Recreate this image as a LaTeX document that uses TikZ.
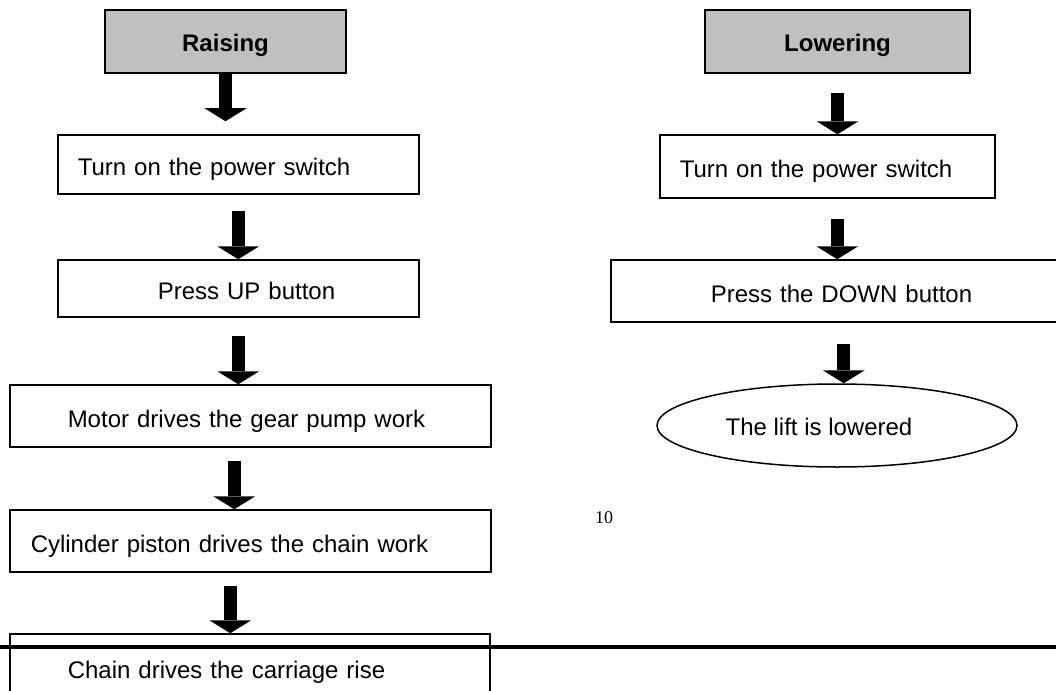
\documentclass[tikz,border=0pt]{standalone}
\usepackage{fontspec}
\setmainfont{Liberation Sans}
\newfontfamily\pagenumfont{Liberation Serif}
\usetikzlibrary{shapes.geometric,arrows.meta,positioning}
\definecolor{headgray}{RGB}{192,192,192}
\setlength{\parindent}{0pt}

\begin{document}
\begin{tikzpicture}[
    x=1pt, y=-1pt,
    font=\fontsize{24}{28}\selectfont,
    head/.style={rectangle, draw, line width=1.5pt, fill=headgray, font=\fontsize{24}{28}\selectfont\bfseries, text height=20pt, text depth=0pt, minimum height=63pt},
    stepbox/.style={rectangle, draw, line width=1.5pt, anchor=west, inner xsep=0pt, align=left, text height=22pt, text depth=0pt},
    result/.style={ellipse, draw, line width=1.5pt, inner sep=0pt, text height=20pt, text depth=0pt, minimum width=360pt, minimum height=83pt},
    bigarrow/.style={line width=13pt, -{Triangle[width=42pt, length=13pt, line width=0pt]}}
]
\useasboundingbox (0,0) rectangle (1056,690);

% Raising
\node[head, minimum width=241pt] (raise) at (225.5,41.5) {Raising};
\node[stepbox, text width=361pt, minimum height=59pt] (onL) at (57,164.5) {\hspace*{20pt}Turn on the power switch};
\node[stepbox, text width=361pt, minimum height=57pt] (upL) at (57,288.5) {\hspace*{100pt}Press UP button};
\node[stepbox, text width=481pt, minimum height=62pt] (motor) at (9,416) {\hspace*{58pt}Motor drives the gear pump work};
\node[stepbox, text width=481pt, minimum height=62pt] (cyl) at (9,541) {\hspace*{21pt}Cylinder piston drives the chain work};
\node[stepbox, text width=480pt, minimum height=66pt] (chain) at (9,667) {\hspace*{58pt}Chain drives the carriage rise};

% Lowering
\node[head, minimum width=265pt] (lower) at (837.5,41.5) {Lowering};
\node[stepbox, text width=335pt, minimum height=63pt] (onR) at (659,166.5) {\hspace*{20pt}Turn on the power switch};
\node[stepbox, text width=460pt, minimum height=62pt] (down) at (610,291) {\hspace*{100pt}Press the DOWN button};
\node[result] (lowered) at (837,425.5) {\hspace*{-36pt}The lift is lowered};

% page number and rule
\node[font=\pagenumfont\fontsize{18}{20}\selectfont] (pagenum) at (604,518) {10};
\draw[line width=4pt] (0,647) -- (1056,647);

% block arrows
\draw[bigarrow] (raise.south) -- ([yshift=13pt]raise.south |- onL.north);
\draw[bigarrow] ([yshift=-16pt]onL.south) -- (onL.south |- upL.north);
\draw[bigarrow] ([yshift=-18pt]upL.south) -- (upL.south |- motor.north);
\draw[bigarrow] ([xshift=-16pt,yshift=-13pt]motor.south) -- ([xshift=-16pt]motor.south |- cyl.north);
\draw[bigarrow] ([xshift=-20pt,yshift=-13pt]cyl.south) -- ([xshift=-20pt]cyl.south |- chain.north);

\draw[bigarrow] ([yshift=-19pt]lower.south) -- (lower.south |- onR.north);
\draw[bigarrow] ([xshift=10pt,yshift=-20pt]onR.south) -- ([xshift=10pt]onR.south |- down.north);
\draw[bigarrow] ([xshift=3pt,yshift=-21pt]down.south) -- ([xshift=3pt]down.south |- lowered.north);

\end{tikzpicture}
\end{document}
